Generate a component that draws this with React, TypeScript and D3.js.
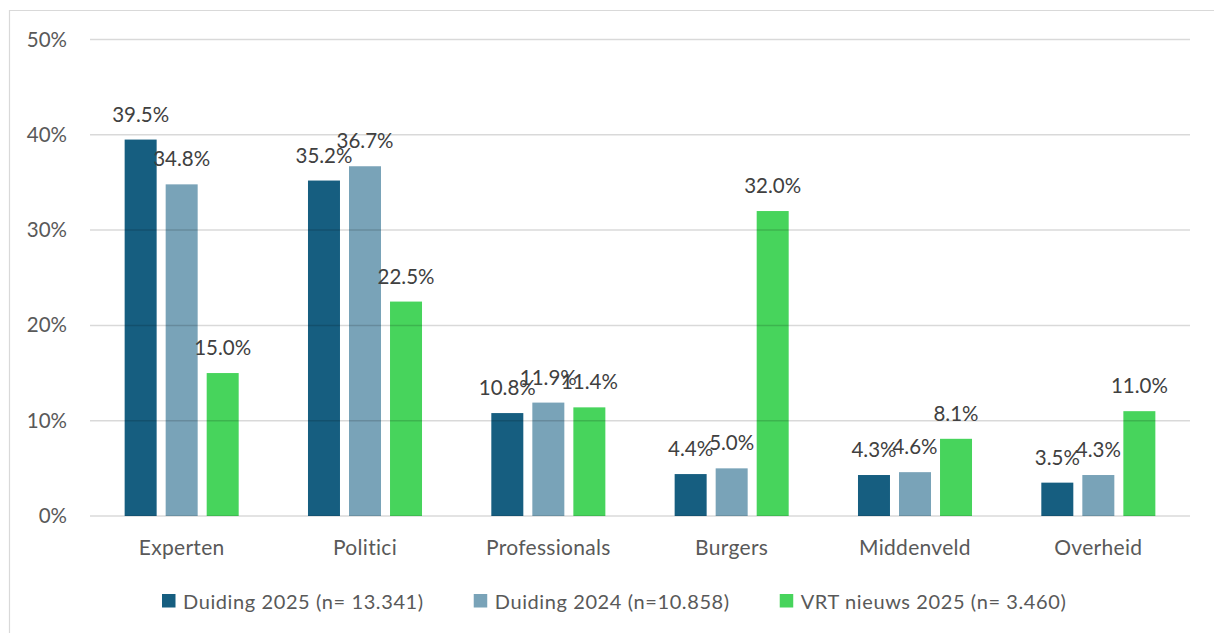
import React, { useEffect, useRef } from 'react';
import * as d3 from 'd3';

const categories = ['Experten', 'Politici', 'Professionals', 'Burgers', 'Middenveld', 'Overheid'];
const seriesNames = ['Duiding 2025 (n= 13.341)', 'Duiding 2024 (n=10.858)', 'VRT nieuws 2025 (n= 3.460)'];
const duiding2025 = [39.5, 35.2, 10.8, 4.4, 4.3, 3.5];
const duiding2024 = [34.8, 36.7, 11.9, 5.0, 4.6, 4.3];
const vrt2025 = [15.0, 22.5, 11.4, 32.0, 8.1, 11.0];
const yTicks = [0, 10, 20, 30, 40, 50];
const colors = ['#165E80', '#79A3B8', '#47D45C'];

const FONT = 'Lato, "Open Sans", sans-serif';

export default function App() {
  const svgRef = useRef<SVGSVGElement>(null);

  useEffect(() => {
    if (!svgRef.current) return;
    const svg = d3.select(svgRef.current);
    svg.selectAll('*').remove();

    const width = 1214;
    const height = 633;
    const allSeries = [duiding2025, duiding2024, vrt2025];

    svg.attr('width', width).attr('height', height).style('font-family', FONT);

    // chart frame (only top and left visible in the crop)
    svg.append('path')
      .attr('d', `M9.5,${height + 5} V10.5 H${width + 5}`)
      .attr('fill', 'none')
      .attr('stroke', '#d9d9d9')
      .attr('stroke-width', 1.2);

    const x0 = d3.scaleBand<string>()
      .domain(categories)
      .range([90, 1190])
      .paddingInner(0.378)
      .paddingOuter(0.189);

    const x1 = d3.scaleBand<number>()
      .domain([0, 1, 2])
      .range([0, x0.bandwidth()])
      .paddingInner(0.22);

    const y = d3.scaleLinear().domain([0, 50]).range([516, 39.5]);

    // bars
    const bars = svg.append('g');
    allSeries.forEach((vals, si) => {
      bars.selectAll(null)
        .data(vals)
        .join('rect')
        .attr('x', (_, i) => (x0(categories[i]) ?? 0) + (x1(si) ?? 0))
        .attr('y', d => y(d))
        .attr('width', x1.bandwidth())
        .attr('height', d => y(0) - y(d))
        .attr('fill', colors[si]);
    });

    // gridlines drawn over bars, slightly transparent
    svg.append('g')
      .selectAll('line')
      .data(yTicks)
      .join('line')
      .attr('x1', 90)
      .attr('x2', 1190)
      .attr('y1', d => y(d))
      .attr('y2', d => y(d))
      .attr('stroke', 'rgba(0,0,0,0.15)')
      .attr('stroke-width', 1.5);

    // y tick labels
    svg.append('g')
      .selectAll('text')
      .data(yTicks)
      .join('text')
      .attr('x', 67)
      .attr('y', d => y(d) + 7)
      .attr('text-anchor', 'end')
      .attr('fill', '#595959')
      .style('font-size', '20.5px')
      .text(d => `${d}%`);

    // category labels
    svg.append('g')
      .selectAll('text')
      .data(categories)
      .join('text')
      .attr('x', d => (x0(d) ?? 0) + x0.bandwidth() / 2)
      .attr('y', 555)
      .attr('text-anchor', 'middle')
      .attr('fill', '#595959')
      .style('font-size', '21px')
      .style('letter-spacing', '0.3px')
      .text(d => d);

    // value labels
    const labels = svg.append('g');
    allSeries.forEach((vals, si) => {
      labels.selectAll(null)
        .data(vals)
        .join('text')
        .attr('x', (_, i) => (x0(categories[i]) ?? 0) + (x1(si) ?? 0) + x1.bandwidth() / 2)
        .attr('y', d => y(d) - 18)
        .attr('text-anchor', 'middle')
        .attr('fill', '#404040')
        .style('font-size', '20.5px')
        .text(d => `${d.toFixed(1)}%`);
    });

    // legend
    const legend = svg.append('g');
    const items = seriesNames.map((name, i) => {
      const g = legend.append('g');
      g.append('rect')
        .attr('x', 0)
        .attr('y', 594)
        .attr('width', 13.5)
        .attr('height', 13.5)
        .attr('fill', colors[i]);
      const t = g.append('text')
        .attr('x', 21)
        .attr('y', 609)
        .attr('fill', '#595959')
        .style('font-size', '20px')
        .style('letter-spacing', '0.6px')
        .text(name);
      const w = (t.node() as SVGTextElement).getComputedTextLength();
      return { g, w: 21 + w };
    });
    const gap = 50;
    let cx = 162;
    items.forEach(it => {
      it.g.attr('transform', `translate(${cx},0)`);
      cx += it.w + gap;
    });
  }, []);

  return (
    <div style={{ position: 'fixed', left: 0, top: 0, background: '#fff' }}>
      <svg ref={svgRef} style={{ display: 'block' }}></svg>
    </div>
  );
}
